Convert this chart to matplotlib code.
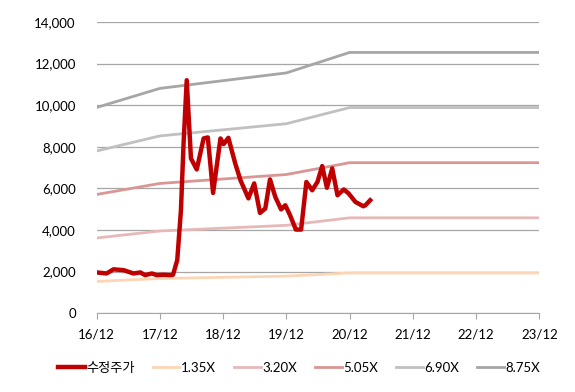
import numpy as np
import matplotlib
matplotlib.use("Agg")
import matplotlib.pyplot as plt

plt.rcParams['font.family'] = ['Lato', 'Noto Sans CJK KR', 'DejaVu Sans']

# x positions are months since 2016-12
tick_months = [0, 12, 24, 36, 48, 60, 72, 84]
tick_labels = ['16/12', '17/12', '18/12', '19/12', '20/12', '21/12', '22/12', '23/12']

price_months = [0.0, 1.9, 3.2, 5.1, 7.0, 8.3, 9.2, 10.5, 11.4, 12.6, 14.0, 14.5,
                15.3, 16.0, 16.5, 17.1, 17.9, 19.0, 20.3, 21.1, 22.1, 23.5, 24.1,
                25.0, 26.3, 27.3, 28.8, 29.9, 31.0, 32.0, 32.9, 33.9, 35.0, 35.8,
                36.7, 37.8, 38.8, 39.8, 40.9, 41.9, 42.8, 43.7, 44.7, 45.7, 46.9,
                47.8, 49.1, 50.6, 51.0, 51.9]
price = [1960, 1910, 2110, 2070, 1910, 1960, 1830, 1910, 1830, 1850, 1830, 1850,
         2550, 4950, 8160, 11200, 7440, 6910, 8400, 8450, 5780, 8400, 8130,
         8430, 7200, 6390, 5520, 6240, 4820, 5030, 6430, 5590, 4990, 5190,
         4710, 4020, 4020, 6310, 5910, 6310, 7070, 6030, 6960, 5670, 5950,
         5760, 5350, 5140, 5190, 5430]

band_months = [0, 12, 36, 48, 84]
band_135 = [1526, 1667, 1782, 1935, 1935]
band_320 = [3616, 3952, 4224, 4585, 4585]
band_505 = [5707, 6237, 6666, 7235, 7235]
band_690 = [7797, 8522, 9108, 9885, 9885]
band_875 = [9888, 10806, 11550, 12535, 12535]

fig = plt.figure(figsize=(5.75, 3.92), dpi=100)
ax = fig.add_axes([0.168, 0.201, 0.770, 0.743])

ax.plot(band_months, band_135, color='#FCD5B5', lw=2, label='1.35X', zorder=3)
ax.plot(band_months, band_320, color='#E6B9B8', lw=2, label='3.20X', zorder=3)
ax.plot(band_months, band_505, color='#D99694', lw=2, label='5.05X', zorder=3)
ax.plot(band_months, band_690, color='#C0C0C0', lw=2, label='6.90X', zorder=3)
ax.plot(band_months, band_875, color='#A6A6A6', lw=2, label='8.75X', zorder=3)
ax.plot(price_months, price, color='#C00000', lw=3.2, label='수정주가', zorder=4,
        solid_joinstyle='round')

ax.set_xlim(0, 84)
ax.set_ylim(0, 14000)
ax.set_yticks(np.arange(0, 14001, 2000))
ax.set_yticklabels([f'{v:,}' for v in range(0, 14001, 2000)], fontsize=9.5)
ax.set_xticks(tick_months)
ax.set_xticklabels(tick_labels, fontsize=9.5)
ax.grid(axis='y', color='#A6A6A6', lw=0.9)
ax.set_axisbelow(True)
for s in ['top', 'right', 'left']:
    ax.spines[s].set_visible(False)
ax.spines['bottom'].set_color('#A6A6A6')
ax.tick_params(axis='y', length=0, pad=15)
ax.tick_params(axis='x', length=4, color='#A6A6A6', pad=7)

handles, labels = ax.get_legend_handles_labels()
order = [5, 0, 1, 2, 3, 4]
fig.legend([handles[i] for i in order], [labels[i] for i in order],
           loc='center', bbox_to_anchor=(0.52, 0.062), ncol=6, frameon=False,
           fontsize=9.5, handlelength=2.0, handletextpad=0.1, columnspacing=1.4)

fig.savefig('out.png', dpi=100)
